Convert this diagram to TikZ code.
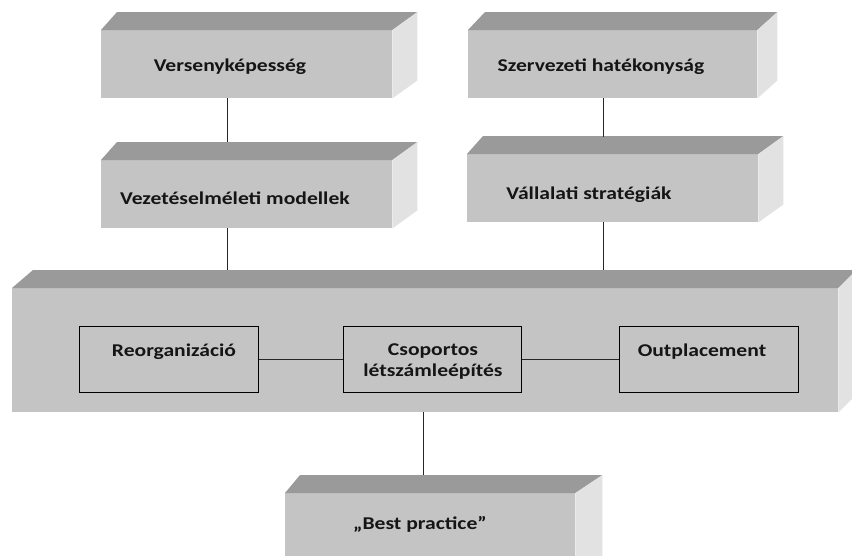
\documentclass[tikz,border=0pt]{standalone}
\usepackage{fontspec}
\usetikzlibrary{calc}
\newfontfamily\lblfont{Carlito}[FakeStretch=1.2]
\definecolor{topc}{HTML}{9A9A9A}
\definecolor{frontc}{HTML}{C4C4C4}
\definecolor{sidec}{HTML}{E2E2E2}
\definecolor{txtc}{HTML}{151515}
\tikzset{
  front/.style={rectangle, fill=frontc, inner sep=0pt, anchor=north west},
  lbl/.style={font=\lblfont\bfseries\fontsize{18}{21}\selectfont, text=txtc, inner sep=0pt, align=center},
  inner/.style={rectangle, draw=black, line width=1.2pt, fill=frontc, inner sep=0pt, minimum width=179pt, minimum height=66pt, anchor=north west},
  conn/.style={draw=black!85, line width=1pt}
}
\begin{document}
\begin{tikzpicture}[x=1pt,y=-1pt]
\useasboundingbox (0,0) rectangle (852,555);
\clip (0,0) rectangle (852,555);
\fill[white] (0,0) rectangle (852,555);
% cube helper: front node, top face, side face
\newcommand\mycube[7]{% name, x, y, w, h, dxl, dxr
  \node[front, minimum width=#4pt, minimum height=#5pt] (#1) at (#2,#3) {};
  \fill[topc] (#1.north west) -- ++(#6,-18) -- ($(#1.north east)+(#7,-18)$) -- (#1.north east) -- cycle;
  \fill[sidec] (#1.north east) -- ++(#7,-18) -- ($(#1.south east)+(#7,-18)$) -- (#1.south east) -- cycle;
}
\mycube{b1}{101}{30}{291}{68}{16}{25}
\mycube{b2}{468}{30}{289}{68}{17}{20}
\mycube{b3}{101}{160}{291}{68}{16}{25}
\mycube{b4}{467}{154}{291}{68}{16}{25}
\mycube{big}{12}{288}{826}{124}{21}{18}
\mycube{bp}{285}{493}{290}{80}{15}{27}

\node[lbl] (t1) at (230,67) {Versenyképesség};
\node[lbl] (t2) at (601,67) {Szervezeti hatékonyság};
\node[lbl] (t3) at (235,198) {Vezetéselméleti modellek};
\node[lbl] (t4) at (589,195) {Vállalati stratégiák};
\node[lbl] (t5) at (420,524) {„Best practice”};

\node[inner] (r) at (79,326) {};
\node[inner, minimum width=178pt] (c) at (343,326) {};
\node[inner] (o) at (619,326) {};
\node[lbl] (tr) at (174,352) {Reorganizáció};
\node[lbl] (tc) at (433,362) {Csoportos\\létszámleépítés};
\node[lbl] (to) at (702,352) {Outplacement};

\coordinate (k1a) at (227,98);  \coordinate (k1b) at (227,142);
\coordinate (k2a) at (603,98);  \coordinate (k2b) at (603,137);
\coordinate (k3a) at (227,228); \coordinate (k3b) at (227,270);
\coordinate (k4a) at (603,222); \coordinate (k4b) at (603,270);
\coordinate (k5a) at (423,412); \coordinate (k5b) at (423,475);
\draw[conn] (k1a) -- (k1b);
\draw[conn] (k2a) -- (k2b);
\draw[conn] (k3a) -- (k3b);
\draw[conn] (k4a) -- (k4b);
\draw[conn] (k5a) -- (k5b);
\draw[conn] (r.east) -- (c.west);
\draw[conn] (c.east) -- (o.west);
\end{tikzpicture}
\end{document}
